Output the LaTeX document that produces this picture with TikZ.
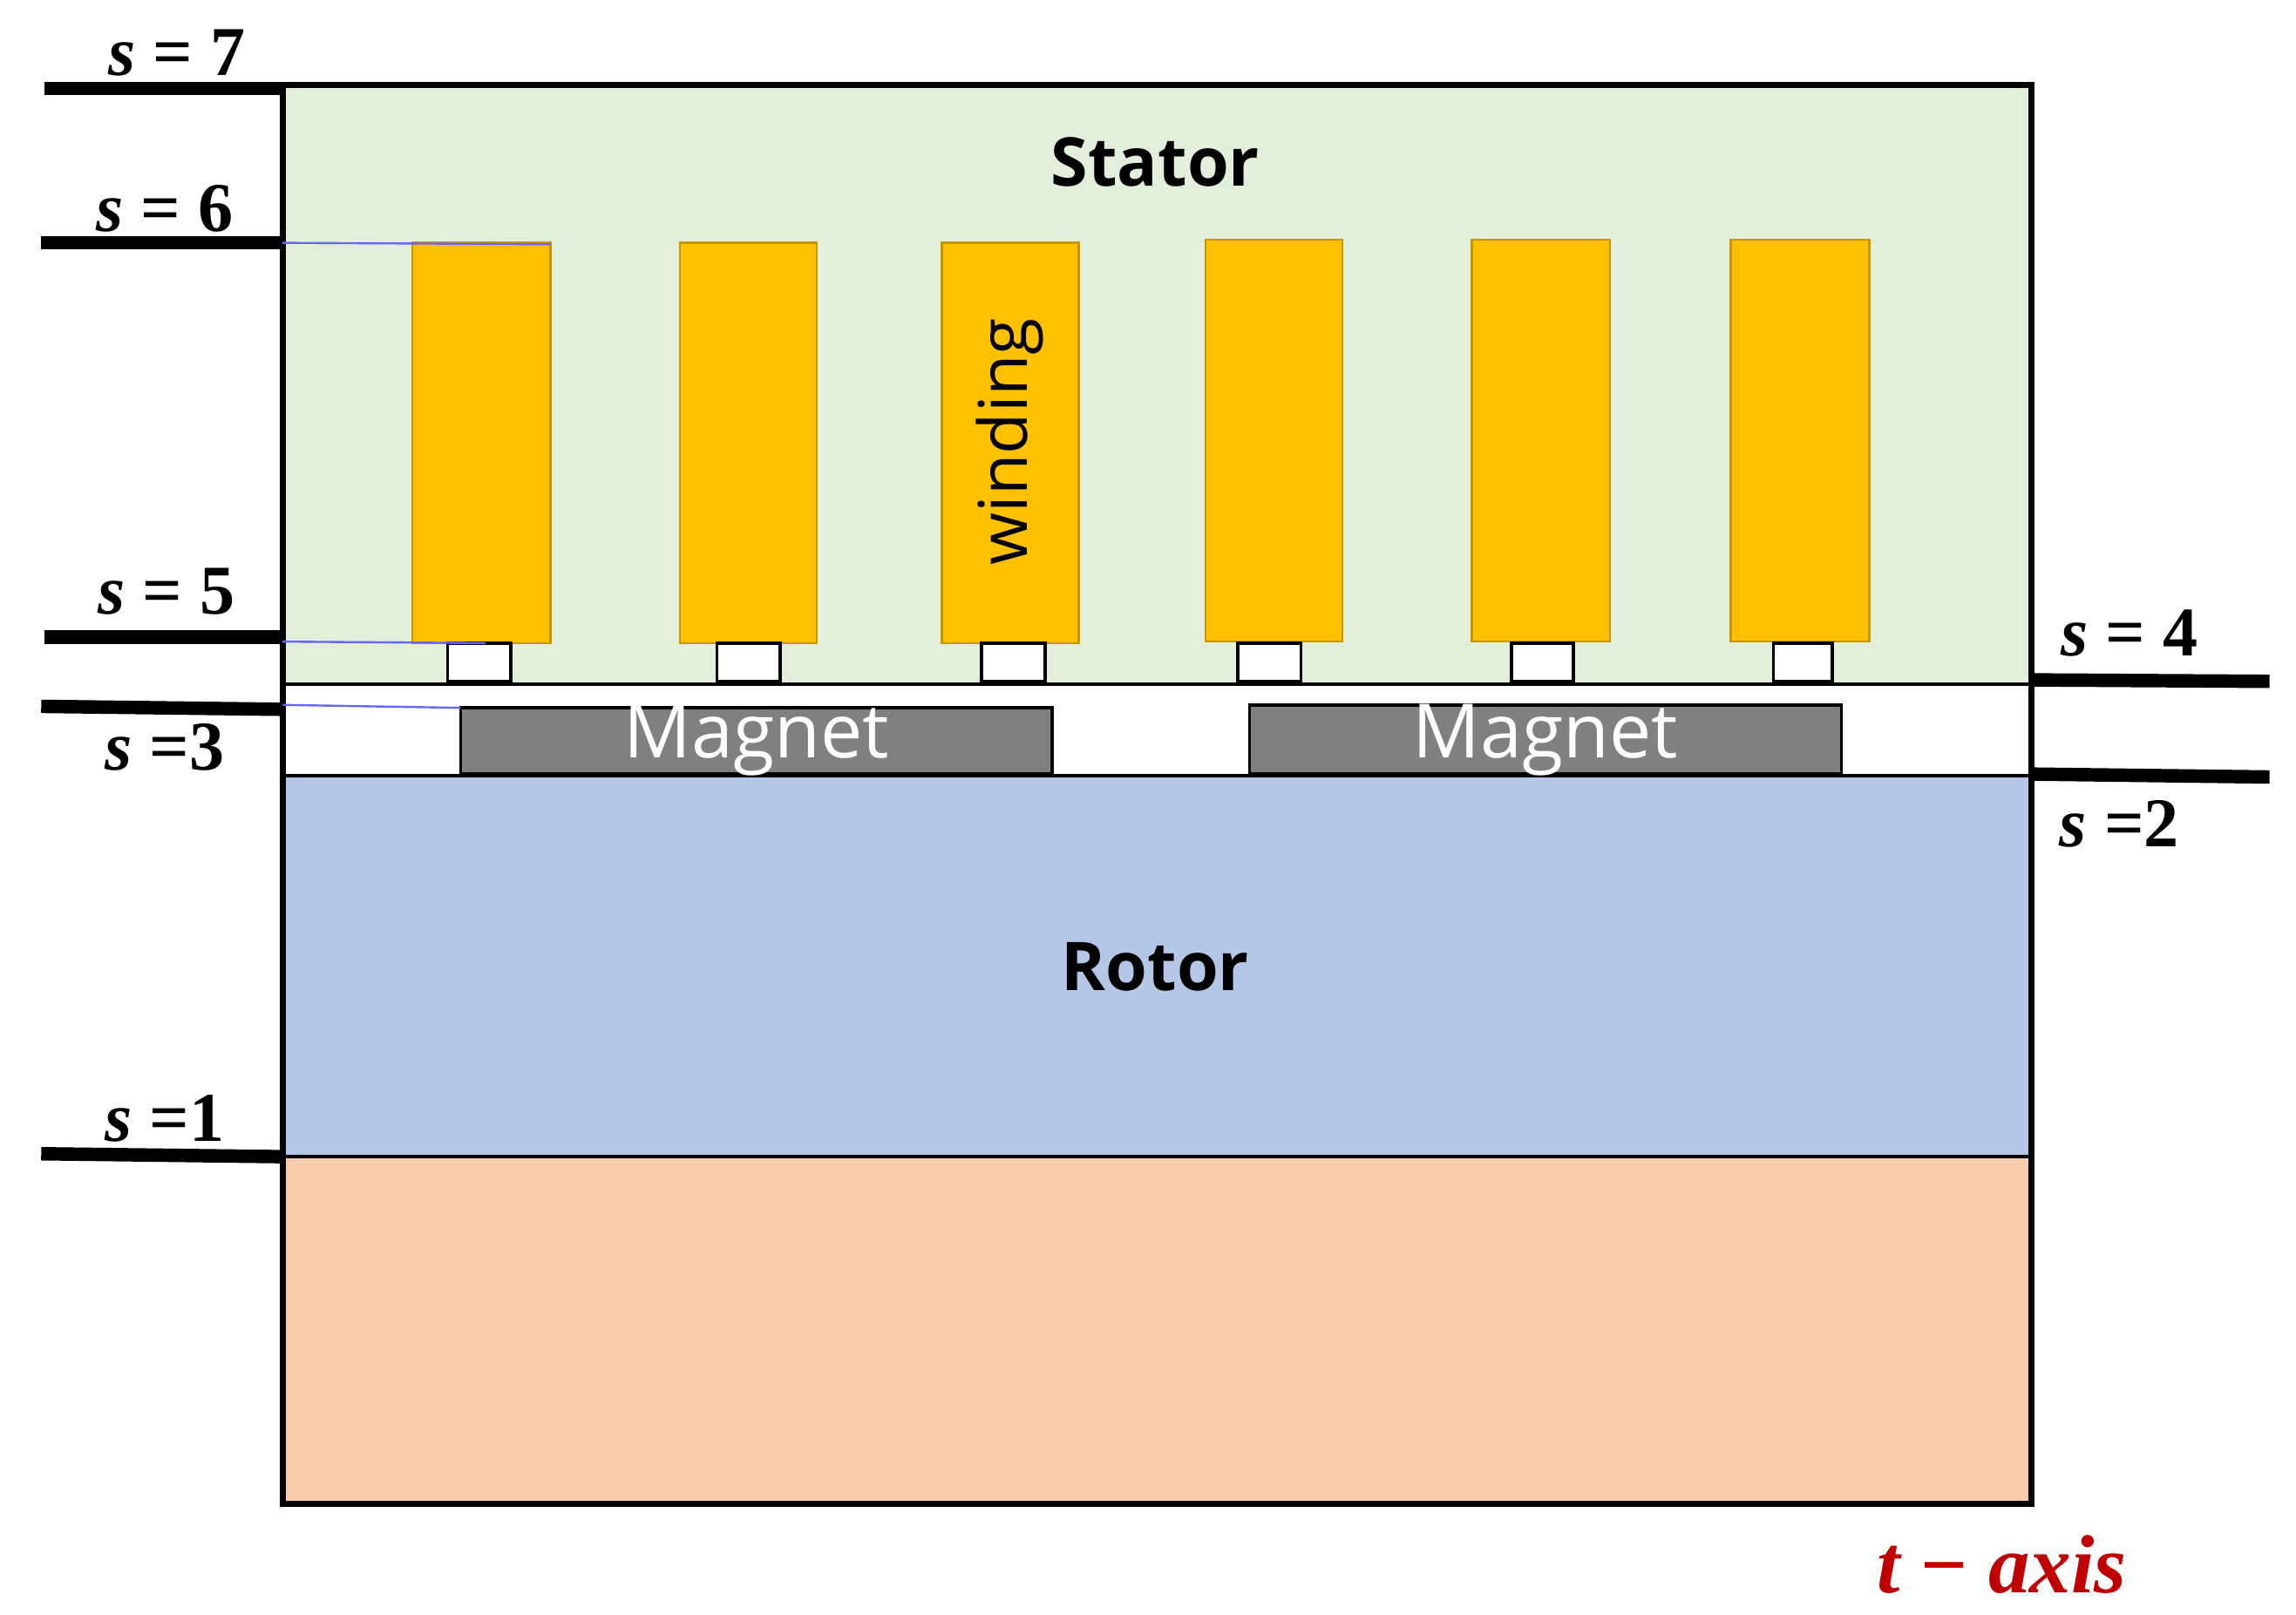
\documentclass[tikz,border=0pt]{standalone}
\usepackage{amsmath}
\usepackage{bm}
\usepackage{fontspec}
\setmainfont{Open Sans}
\newfontfamily\mathlike{Liberation Serif}
\definecolor{statorgreen}{HTML}{E2EFDA}
\definecolor{rotorblue}{HTML}{B4C7E7}
\definecolor{basepeach}{HTML}{F8CBAD}
\definecolor{windgold}{HTML}{FFC000}
\definecolor{windedge}{HTML}{C89600}
\definecolor{axisred}{HTML}{C00000}
\tikzset{
    winding/.style = {draw=windedge, fill=windgold},
    slotbox/.style = {draw, fill=white, line width=0.6pt},
    magnet/.style = {draw, fill=gray, line width=0.6pt},
    level/.style = {line width=2.6pt},
    slab/.style = {font=\bfseries\mathlike\fontsize{13.5}{13.5}\selectfont\itshape},
    guide/.style = {blue!60, line width=0.4pt}
}
\begin{document}
\begin{tikzpicture}[x=0.01cm, y=-0.01cm]
    \useasboundingbox (0,0) rectangle (1560,1097);

    % regions
    \fill [statorgreen] (192,58) rectangle (1380,465);
    \fill [white] (192,465) rectangle (1380,527);
    \fill [rotorblue] (192,527) rectangle (1380,786);
    \fill [basepeach] (192,786) rectangle (1380,1022);
    \draw [line width=0.6pt] (192,465) -- (1380,465);
    \draw [line width=0.6pt] (192,527) -- (1380,527);
    \draw [line width=0.6pt] (192,786) -- (1380,786);
    \draw [line width=1.2pt] (192,58) rectangle (1380,1022);

    % windings
    \draw [winding] (280,165) rectangle (374,437);
    \draw [winding] (462,165) rectangle (555,437);
    \draw [winding] (640,165) rectangle (733,437);
    \draw [winding] (819,163) rectangle (912,436);
    \draw [winding] (1000,163) rectangle (1094,436);
    \draw [winding] (1176,163) rectangle (1270,436);
    \node [rotate=90, font=\fontsize{13}{13}\selectfont] (wlabel) at (686,300) {winding};

    % slot openings
    \draw [slotbox] (304,437) rectangle (347,463);
    \draw [slotbox] (487,437) rectangle (530,463);
    \draw [slotbox] (667,437) rectangle (710,463);
    \draw [slotbox] (841,437) rectangle (884,463);
    \draw [slotbox] (1027,437) rectangle (1069,463);
    \draw [slotbox] (1205,437) rectangle (1245,463);

    % magnets
    \draw [magnet] (313,481) rectangle (715,526);
    \draw [magnet] (849,479) rectangle (1251,526);
    \node [white, font=\fontsize{14.5}{14.5}\selectfont] (mag1) at (514,503) {Magnet};
    \node [white, font=\fontsize{14.5}{14.5}\selectfont] (mag2) at (1050,503) {Magnet};

    \node [font=\bfseries\fontsize{13}{13}\selectfont] (stator) at (785,110) {Stator};
    \node [font=\bfseries\fontsize{13}{13}\selectfont] (rotor) at (785,657) {Rotor};

    % thin guides
    \draw [guide] (192,165) -- (374,166);
    \draw [guide] (192,436) -- (330,437);
    \draw [guide] (192,479) -- (313,481);

    % level lines
    \coordinate (l7) at (30,60);   \coordinate (r7) at (192,60);
    \coordinate (l6) at (28,165);  \coordinate (r6) at (192,165);
    \coordinate (l5) at (30,433);  \coordinate (r5) at (192,433);
    \coordinate (l3) at (28,480);  \coordinate (r3) at (192,482);
    \coordinate (l1) at (28,784);  \coordinate (r1) at (192,786);
    \coordinate (l4) at (1380,462); \coordinate (r4) at (1542,463);
    \coordinate (l2) at (1380,526); \coordinate (r2) at (1542,528);
    \draw [level] (l7) -- (r7);
    \draw [level] (l6) -- (r6);
    \draw [level] (l5) -- (r5);
    \draw [level] (l3) -- (r3);
    \draw [level] (l1) -- (r1);
    \draw [level] (l4) -- (r4);
    \draw [level] (l2) -- (r2);

    \node [slab] (s7) at (120,36) {s \upshape= 7};
    \node [slab] (s6) at (112,142) {s \upshape= 6};
    \node [slab] (s5) at (113,402) {s \upshape= 5};
    \node [slab] (s3) at (112,508) {s \upshape=3};
    \node [slab] (s1) at (112,760) {s \upshape=1};
    \node [slab] (s4) at (1447,430) {s \upshape= 4};
    \node [slab] (s2) at (1440,560) {s \upshape=2};
    \node [slab, axisred, font=\bfseries\mathlike\fontsize{16}{16}\selectfont\itshape] (taxis) at (1360,1063) {t \upshape{\textminus} \itshape axis};
\end{tikzpicture}
\end{document}
